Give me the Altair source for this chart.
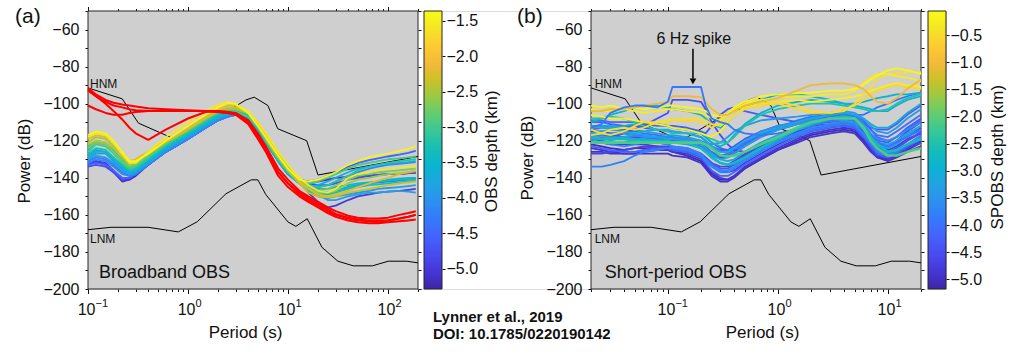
import altair as alt
import numpy as np
import pandas as pd

# ------------------------------------------------------------------ data
# (a) Broadband OBS: PSD curves (dB) sampled at these periods (s)
BB_PERIODS = [0.1, 0.12, 0.15, 0.18, 0.22, 0.26, 0.3, 0.4, 0.6, 1.0, 1.5, 2.0, 2.5, 3.0, 4.0, 5.0,
              6.0, 8.0, 10, 13, 16, 20, 25, 30, 40, 50, 65, 80, 100, 130, 160, 190]
BB_DEPTHS = [-5.2, -5.0, -4.8, -4.55, -4.35, -4.15, -3.95, -3.85, -3.7, -3.55, -3.45, -3.3, -3.2,
             -3.0, -2.75, -2.55, -2.35, -2.25, -1.6, -1.45]
BB_POWER = [
    [-132, -131, -133, -137, -142, -141, -139, -133, -126, -119, -113, -109, -106, -105, -107, -113, -120, -130, -137, -141, -142, -142, -141, -140, -139.5, -139, -139, -138.5, -138, -138, -137.5, -137],
    [-133, -131, -132, -136, -141, -141, -138, -133, -126, -119, -113, -109, -106.5, -105.5, -107, -113, -120, -130, -137, -142, -148, -153, -156, -155, -152, -150, -149, -148, -147.5, -147, -146.5, -146],
    [-134, -133, -134, -137, -141, -140, -138, -133, -126, -119, -113, -109, -107, -106, -107, -113, -120, -130, -137, -141, -143, -144, -144, -143, -141, -140, -139, -138.5, -138, -138, -137.5, -137.5],
    [-133, -132, -133, -136, -140, -140, -138, -133, -126, -119, -113, -109, -107, -106, -107.5, -113, -120, -130, -137, -141, -142, -141, -139, -137, -134, -132, -130.5, -129.5, -128.5, -127.5, -126.5, -125.5],
    [-131, -129, -130, -133, -137, -139, -138, -133, -126, -119, -113, -109, -107, -106, -108, -114, -121, -131, -138, -142, -145, -147, -148, -147, -145, -144, -143, -142.5, -142, -141.5, -141, -140.5],
    [-132, -130, -131, -134, -138, -139, -138, -133, -126, -119, -113, -109, -107, -106, -108, -114, -121, -131, -138, -142, -144, -145, -144, -142, -139, -137, -135, -134, -133, -132.5, -132, -131.5],
    [-129, -127, -127, -131, -135, -138, -137, -132, -125, -118, -112, -108, -106, -105.5, -108, -114, -121, -131, -138, -143, -147, -150, -151, -150, -149, -148, -147, -146, -145.5, -145, -144.5, -144],
    [-130, -128, -129, -132, -136, -138, -137, -132, -125, -118, -112, -108, -106, -105.5, -108, -114, -121, -131, -138, -143, -146, -149, -152, -152, -150, -149, -148, -148, -147.5, -147, -147.5, -148],
    [-128, -125, -126, -129, -134, -137, -136, -131, -124, -117, -111, -107, -105, -105, -108, -114, -121, -131, -138, -143, -145, -144, -142, -140, -137, -135, -134, -133, -132.5, -132, -131.5, -131],
    [-129, -126, -126, -130, -134, -137, -136, -131, -124, -117, -111, -107, -105, -105, -108, -114, -121, -131, -138, -143, -146, -148, -148.5, -147, -145, -144, -143, -142, -141, -140.5, -140, -140],
    [-125, -121, -122, -126, -131, -135, -134, -129, -122, -115, -109, -105, -104, -104, -106, -112, -119, -129, -136, -142, -145, -146, -146, -145, -144, -143, -142.5, -142, -141.5, -141, -141, -141],
    [-127, -124, -125, -129, -133, -136, -135, -130, -123, -116, -110, -106, -104.5, -104.5, -107, -113, -120, -130, -137, -143, -147, -149, -149, -148, -146, -145, -144, -143.5, -143, -142.5, -142, -141.5],
    [-123, -120, -121, -125, -130, -134, -133, -128, -122, -115, -109, -105, -103.5, -104, -106, -112, -119, -129, -136, -141, -144, -145, -144, -142, -139, -136, -134, -133, -132, -131, -130.5, -130],
    [-126, -122, -123, -127, -132, -135, -134, -129, -122, -115, -109, -105, -104, -104, -107, -113, -120, -130, -137, -142, -143, -142, -140, -138, -135, -133, -132, -131, -130, -129.5, -129, -128.5],
    [-124, -121, -122, -126, -131, -134, -133, -128, -121, -114, -108, -104, -103, -103, -105, -111, -117, -127, -134, -141, -145, -147, -146, -144, -141, -139, -138, -137, -136.5, -136, -135.5, -135],
    [-121, -118, -119, -123, -129, -133, -132, -127, -121, -114, -108, -104, -102.5, -102.5, -105, -111, -118, -128, -135, -142, -146, -148, -148, -147, -143, -141, -140, -139, -138, -137.5, -137, -136.5],
    [-122, -120, -121, -124, -129, -132, -131, -127, -121, -114, -108, -104, -102, -102, -105, -112, -119, -129, -136, -143, -148, -150, -150.5, -150, -148, -147, -146, -145, -144, -143, -142.5, -142],
    [-119, -117, -118, -121, -127, -131, -130, -126, -120, -113, -107, -103, -101, -101, -105, -111, -118, -128, -135, -142, -146, -149, -150, -149, -147, -145, -143, -141.5, -140, -138, -137, -135.5],
    [-118, -116, -117, -121, -127, -132, -132, -126, -118, -110, -104, -100.5, -99, -100.5, -104, -110, -116, -126, -133, -140, -144, -147, -148, -146, -140, -138, -137, -136, -135, -134.5, -134, -133.5],
    [-117, -115, -116, -120, -126, -131, -131, -127, -120, -112, -106, -102, -99.5, -100, -105, -112, -118, -128, -135, -141, -142, -141, -139, -137, -133, -131, -129, -128, -127, -125.5, -124.5, -123],
]
BB_RED_POWER = [
    [-91.5, -95, -98, -99.5, -100.5, -101, -101.5, -102.5, -103, -103.5, -104, -104, -104.5, -105, -109, -116, -123, -135, -141, -147, -150, -153, -156, -158, -160.5, -161.5, -162, -162, -161.5, -160, -159, -158],
    [-92.5, -96, -100, -104, -108.5, -113, -116, -119.5, -114, -108, -104.5, -104, -104.5, -105.5, -110, -118, -125, -137, -143, -148, -151, -154, -157, -159.5, -161.5, -162.5, -163, -163, -163, -162, -161, -160],
    [-101, -103, -105, -106, -106, -105, -104.5, -104, -104, -104, -104, -104.5, -105, -106, -111, -119, -126, -139, -145, -150, -153, -156, -159, -161, -163, -164, -164.5, -164.5, -164, -163.5, -163, -162.5],
    [-93, -96, -99, -101, -102, -103, -103.5, -104, -104, -104, -104, -104.5, -105, -105.5, -109, -117, -124, -137, -143, -149, -152, -155, -158, -160, -162, -163, -163.5, -164, -163, -162, -161, -160],
]

# (b) Short-period OBS
SP_PERIODS = [0.02, 0.025, 0.03, 0.04, 0.05, 0.06, 0.08, 0.1, 0.11, 0.15, 0.2, 0.22, 0.25, 0.3, 0.35,
              0.4, 0.5, 0.7, 1.0, 1.5, 2.0, 3.0, 4.0, 5.0, 6.0, 7.0, 8.0, 10, 12, 15, 20]
SP_DEPTHS = [-5.1, -4.95, -4.9, -4.8, -4.7, -4.65, -4.2, -4.4, -4.6, -4.35, -4.15, -4.05, -4.3, -4.0,
             -4.5, -3.8, -3.7, -3.6, -3.3, -3.2, -3.4, -3.1, -3.0, -2.9, -2.5, -0.25, -0.55, -0.45,
             -0.3, -0.15, -1.05, -3.95]
SP_POWER = [
    [-122, -123, -124, -125, -124, -124, -124, -125, -126, -128, -131, -134, -138, -141, -141, -139, -135, -130, -125, -120, -117, -115, -114, -115, -120, -125, -129, -130, -128, -125, -121],
    [-126, -126, -127, -127, -127, -127, -127, -127, -128, -129, -132, -135, -139, -142, -142, -140, -135, -130, -125, -121, -118, -116, -115, -116, -121, -126, -129, -131, -129, -126, -123],
    [-124, -125, -126, -127, -127, -126, -125, -125, -126, -127, -130, -133, -137, -140, -141, -139, -134, -129, -124, -119, -116, -114, -113, -114, -119, -124, -128, -130, -128, -124, -120],
    [-121, -121, -122, -122, -122, -122, -123, -124, -125, -126, -128, -130, -133, -136, -137, -136, -132, -127, -122, -117, -114, -112, -111, -112, -116, -121, -124, -125, -123, -119, -116],
    [-115, -115, -116, -116, -117, -117, -118, -118, -119, -120, -122, -124, -127, -129, -129, -127, -123, -118, -114, -111, -110, -109, -109, -110, -114, -119, -122, -123, -121, -117, -113],
    [-127, -127, -126, -125, -124, -123, -123, -123, -124, -125, -127, -129, -132, -134, -134, -132, -128, -123, -119, -115, -113, -112, -112, -113, -118, -124, -128, -129, -127, -124, -121],
    [-123, -124, -125, -126, -126, -125, -124, -124, -125, -126, -129, -132, -136, -139, -139, -137, -133, -128, -123, -118, -115, -113, -112, -113, -118, -123, -127, -129, -127, -123, -119],
    [-119, -120, -121, -121, -120, -120, -121, -122, -123, -124, -127, -129, -132, -135, -135, -133, -129, -124, -120, -116, -114, -112, -111, -112, -117, -122, -125, -126, -124, -120, -115],
    [-116, -117, -117, -118, -118, -118, -119, -120, -120, -121, -124, -126, -129, -132, -133, -131, -127, -122, -118, -114, -112, -111, -110, -111, -115, -120, -123, -124, -120, -115, -110],
    [-110, -110, -111, -112, -112, -113, -114, -115, -115, -116, -118, -120, -123, -125, -125, -123, -119, -115, -112, -110, -109, -108, -108, -109, -113, -117, -120, -121, -118, -113, -108],
    [-109, -109, -110, -110, -110, -111, -112, -112, -113, -114, -116, -118, -121, -124, -125, -124, -121, -117, -113, -110, -108, -106, -105, -106, -109, -114, -118, -120, -118, -114, -109],
    [-114, -113, -113, -114, -115, -116, -117, -118, -118, -119, -121, -123, -126, -128, -128, -126, -122, -117, -113, -109, -107, -106, -106, -107, -110, -114, -117, -118, -115, -111, -106],
    [-112, -112, -113, -113, -112, -111, -111, -112, -112, -113, -115, -116, -112, -106, -103, -102, -104, -106, -108, -110, -111, -110, -109, -109, -111, -113, -114, -114, -111, -106, -101],
    [-118, -118, -118, -119, -119, -119, -119, -119, -120, -121, -123, -125, -127, -128, -127, -125, -121, -117, -114, -111, -109, -107, -106, -106, -106, -104, -102, -100, -98, -96, -94],
    [-118, -119, -118, -116, -114, -112, -108, -105, -98, -98, -99, -103, -110, -117, -122, -125, -126, -124, -120, -116, -114, -112, -111, -112, -117, -123, -126, -127, -124, -120, -116],
    [-134, -134, -133, -131, -128, -126, -125, -124, -124, -125, -128, -131, -134, -137, -137, -135, -131, -126, -121, -117, -114, -112, -111, -112, -117, -122, -126, -128, -126, -122, -118],
    [-120, -121, -122, -123, -122, -121, -121, -122, -123, -124, -127, -130, -133, -136, -136, -134, -130, -125, -120, -116, -113, -111, -110, -111, -116, -121, -125, -127, -126, -122, -117],
    [-117, -117, -116, -116, -117, -118, -118, -118, -118, -119, -121, -122, -124, -126, -126, -124, -120, -115, -112, -110, -109, -108, -107, -108, -111, -116, -119, -120, -118, -114, -110],
    [-119, -119, -118, -118, -119, -119, -120, -121, -121, -122, -124, -126, -128, -130, -129, -127, -123, -118, -114, -111, -110, -109, -109, -110, -114, -119, -122, -124, -122, -117, -112],
    [-116, -115, -114, -115, -116, -117, -118, -119, -119, -120, -122, -124, -127, -130, -131, -130, -126, -121, -117, -113, -111, -109, -108, -109, -113, -118, -121, -122, -120, -116, -112],
    [-113, -112, -112, -113, -114, -115, -116, -117, -117, -118, -120, -121, -122, -121, -118, -115, -112, -109, -108, -107, -106, -105, -104, -105, -108, -112, -115, -116, -113, -108, -103],
    [-121, -121, -120, -118, -116, -115, -114, -114, -115, -116, -118, -120, -123, -126, -126, -124, -120, -116, -113, -110, -108, -106, -105, -106, -108, -111, -113, -113, -110, -105, -100],
    [-112, -113, -113, -112, -111, -110, -111, -112, -113, -114, -116, -118, -121, -123, -121, -117, -111, -105, -101, -99, -98, -99, -100, -101, -102, -103, -104, -104, -101, -98, -96],
    [-110, -108, -106, -104, -102, -101, -101, -102, -103, -104, -106, -108, -111, -113, -110, -106, -102, -98, -95, -95, -96, -98, -100, -100, -99, -98, -97, -96, -95, -95, -94],
    [-108, -108, -107, -108, -110, -112, -114, -115, -116, -116, -116, -117, -119, -121, -121, -118, -112, -106, -103, -101, -100, -100, -101, -102, -103, -104, -104, -103, -100, -97, -95],
    [-106, -107, -108, -108, -109, -110, -111, -112, -113, -114, -116, -117, -118, -115, -110, -106, -102, -100, -99, -98, -99, -98, -97, -96, -95, -93, -92, -90, -89, -90, -91],
    [-114, -116, -117, -115, -112, -110, -110, -110, -109, -109, -110, -111, -113, -110, -106, -103, -102, -101, -100, -103, -105, -105, -103, -101, -98, -95, -93, -91, -90, -91, -92],
    [-117, -116, -114, -113, -114, -113, -110, -109, -108.5, -108, -108, -109, -111, -112, -109, -106, -103, -100, -99, -101, -104, -105, -104, -100, -95, -91, -87, -84, -83.5, -83, -83],
    [-103, -104, -104, -103, -104, -105, -104, -103, -103, -104, -105, -106, -108, -109, -106, -103, -100, -98, -97, -96, -96, -95, -95, -93, -89, -86, -84, -84, -85, -86, -88],
    [-101, -102, -101, -103, -102, -103, -102, -101, -101, -102, -103, -104, -106, -107, -105, -102, -99, -96, -95, -94.5, -94, -93, -93, -92, -90, -87, -85, -82, -81, -82, -84],
    [-104, -104, -103, -103, -102, -101, -100, -99, -96, -96, -96.5, -99, -103, -106, -106, -104, -101, -99, -97, -93, -90, -89, -89, -90, -92, -96, -99, -100, -97, -92, -87],
    [-113, -111, -105, -102, -101, -101, -102, -99, -91, -91, -91, -101, -108, -110, -111, -114, -116, -117, -116, -114, -112, -109, -108, -109, -113, -118, -121, -123, -121, -118, -114],
]
SP_THICK_DEPTHS = [-2.7, -2.1]
SP_THICK_POWER = [
    [-118, -119, -119, -119, -120, -120, -120, -120, -121, -121, -124, -126, -129, -132, -133, -132, -129, -124, -119, -114, -111, -108, -107, -108, -112, -118, -122, -126, -125, -122, -119],
    [-121, -121, -121, -121, -121, -121, -121, -121, -121, -121, -121, -122, -124, -128, -128.5, -128, -126, -122, -118, -113, -110, -108, -108, -108, -113, -120, -124, -128, -128, -126, -124],
]

# Peterson noise models as drawn in each panel
MODEL_DB_LNM = [-168.0, -166.7, -166.7, -169.2, -163.7, -148.6, -141.1, -141.1, -149.0, -163.8,
                -166.2, -162.1, -177.5, -185.0, -187.5, -187.5, -185.0, -185.0, -185.9]
MODEL_DB_HNM = [-91.5, -97.4, -110.5, -120.0, -98.0, -96.5, -101.0, -113.5, -120.0, -138.5, -128.5]
LNM_T_A = [0.1, 0.17, 0.4, 0.8, 1.24, 2.4, 4.3, 5.0, 6.0, 10, 12, 15.6, 21.9, 31.6, 45, 70, 101, 154, 200]
HNM_T_A = [0.1, 0.22, 0.32, 0.8, 3.8, 4.6, 6.3, 7.9, 15.4, 20, 200]
LNM_T_B = [0.02, 0.0324, 0.0705, 0.1324, 0.197, 0.359, 0.61, 0.70, 0.826, 1.314, 1.55, 1.97,
           2.68, 3.74, 5.15, 7.70, 10.74, 15.8, 20]
HNM_T_B = [0.02, 0.0409, 0.0575, 0.1324, 0.545, 0.649, 0.863, 1.06, 1.95, 2.47, 20]

# axes / colour bars
XLIM_A = [0.1, 200]
XLIM_B = [0.02, 20]
YLIM = [-200, -50]
DEPTH_A = [-5.287, -1.362]
DEPTH_B = [-5.175, -0.058]
CB_TICKS_A = [-1.5, -2.0, -2.5, -3.0, -3.5, -4.0, -4.5, -5.0]
CB_TICKS_B = [-0.5, -1.0, -1.5, -2.0, -2.5, -3.0, -3.5, -4.0, -4.5, -5.0]
XLAB_T_A = [0.1, 1, 10, 100]
XLAB_EXP_A = ["\u22121", "0", "1", "2"]
XLAB_T_B = [0.1, 1, 10]
XLAB_EXP_B = ["\u22121", "0", "1"]
MODEL_LABELS = ["HNM", "LNM"]
MODEL_LABEL_DB = [-91.3, -175.2]
PANEL_NAMES = ["Broadband OBS", "Short-period OBS"]
PANEL_NAME_DB = -194.1
SPIKE_TEXT = "6 Hz spike"
SPIKE_TEXT_POS = (0.172, -67.8)
SPIKE_ARROW = (0.169, -70.4, -86.5)
CITATION = ["Lynner et al., 2019", "DOI: 10.1785/0220190142"]

# ------------------------------------------------------------------ style
FONT = "Liberation Sans"
INK = "#111111"
FRAME = "#262626"
PANEL_BG = "#cfcfcf"
PARULA = ["#3e26a8", "#4537d5", "#484cf0", "#4562fc", "#337afd", "#2c90f0", "#21a3e3", "#0bb3d2",
          "#14beb8", "#35c79b", "#5ecd74", "#96ca48", "#cbc128", "#f3ba39", "#fdcb32", "#f5e526",
          "#f9fb15"]
W, H = 858, 278
RANGE_A = [0, 330]
RANGE_B = [503, 833]
CB_A = (336, 354)
CB_B = (840, 858)

MAJOR_X = "abs(log(datum.value)/LN10 - round(log(datum.value)/LN10)) < 0.001"
Y_TICKS = list(range(-200, -49, 10))


def log_ticks(lo, hi):
    vals = []
    for e in range(-3, 4):
        for m in range(1, 10):
            v = round(m * 10.0 ** e, 6)
            if lo - 1e-9 <= v <= hi + 1e-9:
                vals.append(v)
    return vals


def xscale(lim, rng):
    return alt.Scale(type="log", domain=lim, range=rng, nice=False)


YS = alt.Scale(domain=YLIM, nice=False, zero=False)


def cscale(lim):
    return alt.Scale(domain=list(np.linspace(lim[0], lim[1], len(PARULA))), range=PARULA, interpolate="rgb")


def x_axis(orient, values, title=None, title_x=0):
    kw = dict(orient=orient, values=values, labels=False, domain=False, grid=False,
              ticks=True, tickColor=INK, tickWidth=1,
              tickSize={"condition": {"test": MAJOR_X, "value": 4.5}, "value": 2.5})
    if title is None:
        kw["title"] = None
    else:
        kw.update(title=title, titleFont=FONT, titleFontSize=17, titleFontWeight="normal",
                  titleColor=INK, titleX=title_x, titleY=48.5, titleAlign="center",
                  titleBaseline="alphabetic", titleAngle=0)
    return alt.Axis(**kw)


def y_axis(orient, offset, title=None, title_x=0, title_y=0):
    kw = dict(orient=orient, offset=offset, values=Y_TICKS, domain=False, grid=False,
              ticks=True, tickColor=INK, tickWidth=1, tickSize=3)
    if title is None:
        kw.update(labels=False, title=None)
    else:
        kw.update(labels=True, labelExpr="datum.value % 20 == 0 ? datum.label : ''",
                  labelFont=FONT, labelFontSize=16, labelColor=INK, labelPadding=6,
                  labelOverlap=False, title=title, titleFont=FONT, titleFontSize=17,
                  titleFontWeight="normal", titleColor=INK, titleX=title_x, titleY=title_y,
                  titleAngle=270, titleAlign="center", titleBaseline="alphabetic")
    return alt.Axis(**kw)


def long_df(periods, depths, series):
    rows = []
    for i, (d, vals) in enumerate(zip(depths, series)):
        for t, v in zip(periods, vals):
            rows.append({"id": i, "T": t, "dB": v, "depth": d})
    return pd.DataFrame(rows)


def panel(xlim, rng, periods, depths, power, dlim, lnm_t, hnm_t, name, dx_name, dx_model,
          y_off_left, y_off_right, title_x, ytitle_y, xlab_t, xlab_exp, extra=()):
    xs = xscale(xlim, rng)
    ticks = log_ticks(xlim[0], xlim[1])
    layers = []
    bg = pd.DataFrame({"x0": [xlim[0]], "x1": [xlim[1]], "y0": [YLIM[0]], "y1": [YLIM[1]]})
    layers.append(alt.Chart(bg).mark_rect(fill=PANEL_BG, stroke=FRAME, strokeWidth=1).encode(
        x=alt.X("x0:Q", scale=xs, axis=x_axis("top", ticks)), x2="x1:Q",
        y=alt.Y("y0:Q", scale=YS, axis=y_axis("right", y_off_right)), y2="y1:Q"))
    models = pd.concat([
        pd.DataFrame({"m": "LNM", "T": lnm_t, "dB": MODEL_DB_LNM}),
        pd.DataFrame({"m": "HNM", "T": hnm_t, "dB": MODEL_DB_HNM})])
    layers.append(alt.Chart(models).mark_line(color="#000000", strokeWidth=1).encode(
        x=alt.X("T:Q", scale=xs, axis=None), y=alt.Y("dB:Q", scale=YS, axis=None), detail="m:N"))
    df = long_df(periods, depths, power)
    layers.append(alt.Chart(df).mark_line(strokeWidth=1.8, strokeJoin="round").encode(
        x=alt.X("T:Q", scale=xs, axis=x_axis("bottom", ticks, "Period (s)", title_x)),
        y=alt.Y("dB:Q", scale=YS, axis=y_axis("left", y_off_left, "Power (dB)", -58.5, ytitle_y)),
        color=alt.Color("depth:Q", scale=cscale(dlim), legend=None),
        detail="id:N"))
    layers.extend(extra)
    ml = pd.DataFrame({"label": MODEL_LABELS, "T": [xlim[0]] * 2, "dB": MODEL_LABEL_DB})
    layers.append(alt.Chart(ml).mark_text(align="left", baseline="alphabetic", dx=dx_model,
                                          font=FONT, fontSize=12, color=INK).encode(
        x=alt.X("T:Q", scale=xs, axis=None), y=alt.Y("dB:Q", scale=YS, axis=None), text="label:N"))
    pn = pd.DataFrame({"label": [name], "T": [xlim[0]], "dB": [PANEL_NAME_DB]})
    layers.append(alt.Chart(pn).mark_text(align="left", baseline="alphabetic", dx=dx_name,
                                          font=FONT, fontSize=18, color=INK).encode(
        x=alt.X("T:Q", scale=xs, axis=None), y=alt.Y("dB:Q", scale=YS, axis=None), text="label:N"))
    xl = pd.DataFrame({"T": xlab_t, "exp": xlab_exp})
    layers.append(alt.Chart(xl).mark_text(text="10", align="right", baseline="alphabetic", dx=7.5,
                                          font=FONT, fontSize=16, color=INK).encode(
        x=alt.X("T:Q", scale=xs, axis=None), y=alt.value(H + 26)))
    layers.append(alt.Chart(xl).mark_text(align="left", baseline="alphabetic", dx=7.5,
                                          font=FONT, fontSize=11, color=INK).encode(
        x=alt.X("T:Q", scale=xs, axis=None), y=alt.value(H + 17.5), text="exp:N"))
    return layers, xs


def colorbar(dlim, xpix, offset, ticks, title, title_x, title_y):
    edges = np.linspace(dlim[0], dlim[1], 161)
    step = edges[1] - edges[0]
    g = pd.DataFrame({"v": (edges[:-1] + edges[1:]) / 2, "lo": edges[:-1],
                      "hi": np.minimum(edges[1:] + 0.6 * step, dlim[1])})
    ys = alt.Scale(domain=dlim, nice=False, zero=False)
    ax = alt.Axis(orient="right", offset=offset, values=ticks, format=".1f", domain=False, grid=False,
                  ticks=True, tickColor=INK, tickSize=3, tickWidth=1, labelFont=FONT, labelFontSize=16,
                  labelColor=INK, labelPadding=1, labelOverlap=False, labelFlush=False,
                  title=title, titleFont=FONT, titleFontSize=17, titleFontWeight="normal",
                  titleColor=INK, titleAngle=270, titleX=title_x, titleY=title_y,
                  titleAlign="center", titleBaseline="alphabetic")
    grad = alt.Chart(g).mark_rect().encode(
        x=alt.value(xpix[0]), x2=alt.value(xpix[1]),
        y=alt.Y("lo:Q", scale=ys, axis=ax), y2="hi:Q",
        color=alt.Color("v:Q", scale=cscale(dlim), legend=None))
    border = alt.Chart(pd.DataFrame({"a": [dlim[0]], "b": [dlim[1]]})).mark_rect(
        fillOpacity=0, stroke=FRAME, strokeWidth=1).encode(
        x=alt.value(xpix[0]), x2=alt.value(xpix[1]),
        y=alt.Y("a:Q", scale=ys, axis=None), y2="b:Q")
    return [grad, border]


# ---------------- panel (a)
xsA = xscale(XLIM_A, RANGE_A)
red = alt.Chart(long_df(BB_PERIODS, [0] * len(BB_RED_POWER), BB_RED_POWER)).mark_line(
    color="#ff0000", strokeWidth=2, strokeJoin="round").encode(
    x=alt.X("T:Q", scale=xsA, axis=None), y=alt.Y("dB:Q", scale=YS, axis=None), detail="id:N")
layers_a, _ = panel(XLIM_A, RANGE_A, BB_PERIODS, BB_DEPTHS, BB_POWER, DEPTH_A, LNM_T_A, HNM_T_A,
                    PANEL_NAMES[0], 11, 2, 0, RANGE_A[1] - W, 157, 149.5, XLAB_T_A, XLAB_EXP_A,
                    extra=[red])

# ---------------- panel (b)
xsB = xscale(XLIM_B, RANGE_B)
thick = alt.Chart(long_df(SP_PERIODS, SP_THICK_DEPTHS, SP_THICK_POWER)).mark_line(
    strokeWidth=2.6, strokeJoin="round").encode(
    x=alt.X("T:Q", scale=xsB, axis=None), y=alt.Y("dB:Q", scale=YS, axis=None),
    color=alt.Color("depth:Q", scale=cscale(DEPTH_B), legend=None), detail="id:N")
spike_txt = alt.Chart(pd.DataFrame({"t": [SPIKE_TEXT], "T": [SPIKE_TEXT_POS[0]], "dB": [SPIKE_TEXT_POS[1]]})).mark_text(
    align="center", baseline="alphabetic", font=FONT, fontSize=16, color=INK).encode(
    x=alt.X("T:Q", scale=xsB, axis=None), y=alt.Y("dB:Q", scale=YS, axis=None), text="t:N")
arrow = alt.Chart(pd.DataFrame({"T": [SPIKE_ARROW[0]], "a": [SPIKE_ARROW[1]], "b": [SPIKE_ARROW[2]]})).mark_rule(
    color="#000000", strokeWidth=1.5).encode(
    x=alt.X("T:Q", scale=xsB, axis=None), y=alt.Y("a:Q", scale=YS, axis=None), y2="b:Q")
head = alt.Chart(pd.DataFrame({"T": [SPIKE_ARROW[0]], "dB": [SPIKE_ARROW[2] - 1.5]})).mark_point(
    shape="triangle-down", filled=True, size=45, color="#000000", opacity=1).encode(
    x=alt.X("T:Q", scale=xsB, axis=None), y=alt.Y("dB:Q", scale=YS, axis=None))
layers_b, _ = panel(XLIM_B, RANGE_B, SP_PERIODS, SP_DEPTHS, SP_POWER, DEPTH_B, LNM_T_B, HNM_T_B,
                    PANEL_NAMES[1], 13.7, 3.7, -RANGE_B[0], RANGE_B[1] - W, 674, 146.5,
                    XLAB_T_B, XLAB_EXP_B, extra=[thick, spike_txt, arrow, head])

# ---------------- colour bars
cb_a = colorbar(DEPTH_A, CB_A, CB_A[1] - W, CB_TICKS_A, "OBS depth (km)", 54.4, 139.8)
cb_b = colorbar(DEPTH_B, CB_B, CB_B[1] - W, CB_TICKS_B, "SPOBS depth (km)", 56.7, 145.7)

# ---------------- free text
letters = alt.Chart(pd.DataFrame({"t": ["(a)", "(b)"], "px": [-73, 429]})).mark_text(
    align="left", baseline="alphabetic", font=FONT, fontSize=21, color=INK).encode(
    x=alt.X("px:Q", scale=None), y=alt.value(12), text="t:N")
cite = alt.Chart(pd.DataFrame({"t": CITATION, "py": [311, 328]})).mark_text(
    align="left", baseline="alphabetic", font=FONT, fontSize=15, fontWeight="bold", color=INK).encode(
    x=alt.value(345), y=alt.Y("py:Q", scale=None), text="t:N")

chart = alt.layer(*layers_a, *layers_b, *cb_a, *cb_b, letters, cite).resolve_scale(
    x="independent", y="independent", color="independent").resolve_axis(
    x="independent", y="independent").properties(
    width=W, height=H, autosize=alt.AutoSizeParams(type="none"),
    padding={"left": 88, "top": 11, "right": 77, "bottom": 64},
    background="white").configure_view(strokeWidth=0).configure(font=FONT)

chart.save("out.html", embed_options={"renderer": "svg", "actions": False})
